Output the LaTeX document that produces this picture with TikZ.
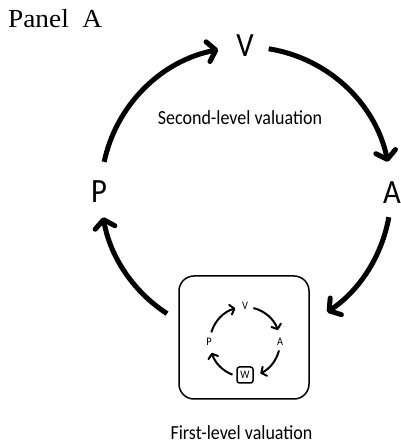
\documentclass[tikz,border=0pt]{standalone}
\usepackage{fontspec}
\setmainfont{Liberation Serif}
\newfontfamily\panelfont[FakeStretch=1.05]{Liberation Serif}
\newfontfamily\lblfont[FakeStretch=0.9]{Carlito}
\newfontfamily\capfont[FakeStretch=0.9]{Carlito}
\usetikzlibrary{arrows.meta}
\begin{document}
\begin{tikzpicture}[x=1pt,y=1pt,
  bigarr/.style={line width=5pt, -{Straight Barb[length=8pt,width=20pt,round]}},
  smallarr/.style={line width=2pt, -{Straight Barb[length=4pt,width=10pt,round]}},
  biglbl/.style={font=\lblfont\fontsize{34}{34}\selectfont, inner sep=0pt},
  smalllbl/.style={font=\lblfont\fontsize{11.5}{12}\selectfont, inner sep=0pt},
  caplbl/.style={font=\capfont\fontsize{20}{22}\selectfont, inner sep=0pt},
  framebox/.style={draw, line width=1.5pt, rounded corners=15pt, minimum width=130pt, minimum height=123pt, inner sep=0pt}]
\useasboundingbox (0,0) rectangle (401,445);
% title
\node[anchor=base west, inner sep=0pt, font=\panelfont\fontsize{26}{26}\selectfont] (title) at (8,417.5) {Panel\ \ A};
% main cycle
\coordinate (C) at (246,253);
\node[biglbl] (V) at (245,399) {V};
\node[biglbl] (P) at (99,253) {P};
\node[biglbl] (A) at (392,252) {A};
\node[framebox] (box) at (244,107.5) {};
\path (C) ++(168:145) coordinate (a1s);
\path (C) ++(81:145) coordinate (a2s);
\path (C) ++(-10:145) coordinate (a3s);
\path (C) ++(-123:145) coordinate (a4s);
\draw[bigarr] (a1s) arc[start angle=168, end angle=101, radius=145];
\draw[bigarr] (a2s) arc[start angle=81, end angle=12, radius=145];
\draw[bigarr] (a3s) arc[start angle=-10, end angle=-56, radius=145];
\draw[bigarr] (a4s) arc[start angle=-123, end angle=-170, radius=145];
\node[caplbl] (second) at (240,327) {Second-level valuation};
\node[caplbl] (first) at (241.5,12.5) {First-level valuation};
% inner cycle
\coordinate (c) at (245,103);
\node[smalllbl] (v) at (245,139) {V};
\node[smalllbl] (p) at (209,103) {P};
\node[smalllbl] (a) at (280,103) {A};
\node[smalllbl, draw, line width=1.5pt, rounded corners=2.5pt, minimum size=16pt] (w) at (245,70) {W};
\path (c) ++(164:35) coordinate (b1s);
\path (c) ++(76:35) coordinate (b2s);
\path (c) ++(-14:35) coordinate (b3s);
\path (c) ++(-111:35) coordinate (b4s);
\draw[smallarr] (b1s) arc[start angle=164, end angle=106, radius=35];
\draw[smallarr] (b2s) arc[start angle=76, end angle=20, radius=35];
\draw[smallarr] (b3s) arc[start angle=-14, end angle=-64, radius=35];
\draw[smallarr] (b4s) arc[start angle=-111, end angle=-162, radius=35];
\end{tikzpicture}
\end{document}
